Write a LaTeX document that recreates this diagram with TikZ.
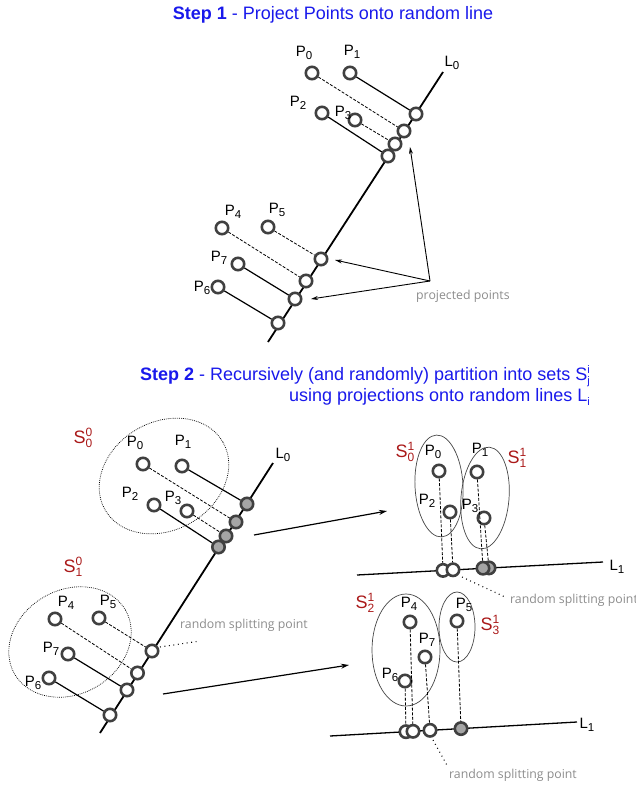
\documentclass[tikz,border=0pt]{standalone}
\usepackage{fontspec}
\setmainfont{Liberation Sans}
\newfontfamily\notefont{Open Sans}
\usetikzlibrary{arrows.meta}
\definecolor{ttblue}{RGB}{25,25,235}
\definecolor{ttred}{RGB}{170,25,25}
\definecolor{ringc}{RGB}{64,64,64}
\definecolor{projfill}{RGB}{165,165,165}
\definecolor{notec}{RGB}{140,140,140}
\definecolor{ellc}{RGB}{70,70,70}
\newcommand\Plab[1]{P\raisebox{-2.8pt}{\fontsize{11.5}{11.5}\selectfont #1}}
\newcommand\Slab[2]{S\rlap{\raisebox{6.5pt}{\fontsize{12}{12}\selectfont #1}}\raisebox{-4pt}{\fontsize{12}{12}\selectfont #2}}
\begin{document}
\begin{tikzpicture}[x=1pt,y=-1pt,
  ptc/.style={circle,draw=ringc,line width=2.6pt,fill=white,minimum size=12.4pt,inner sep=0pt},
  gptc/.style={ptc,fill=projfill},
  lab/.style={inner sep=0pt,font=\fontsize{15}{15}\selectfont},
  slab/.style={inner sep=0pt,text=ttred,font=\fontsize{18}{18}\selectfont},
  title/.style={inner sep=0pt,text=ttblue,font=\fontsize{18}{18}\selectfont},
  axisline/.style={line width=1.8pt},
  solidc/.style={line width=1.2pt},
  dashc/.style={line width=0.8pt,dash pattern=on 3pt off 1.6pt},
  note/.style={inner sep=0pt,text=notec,font=\notefont\fontsize{12.3}{12.3}\selectfont},
  noteline/.style={line width=1.1pt,dash pattern=on 0.9pt off 3.6pt},
  setell/.style={line width=0.7pt,dash pattern=on 0.8pt off 1.1pt},
  subell/.style={draw=ellc,line width=0.7pt},
  bigarrow/.style={line width=1.2pt,-{Stealth[length=8pt,width=5pt]}},
  smallarrow/.style={line width=0.9pt,-{Stealth[length=7pt,width=4pt]}}]
\useasboundingbox (0,0) rectangle (636,787);

% ---------------- Titles
\node[title,anchor=base] (t1) at (333,19.5) {\textbf{Step 1} - Project Points onto random line};
\node[title,anchor=base east] (t2a) at (590,380) {\textbf{Step 2} - Recursively (and randomly) partition into sets S\rlap{\raisebox{6.5pt}{\fontsize{11}{11}\selectfont i}}\raisebox{-4pt}{\fontsize{11}{11}\selectfont j}};
\node[title,anchor=base east] (t2b) at (590,401) {using projections onto random lines L\raisebox{-4pt}{\fontsize{11}{11}\selectfont i}};

% ---------------- Step 1
\coordinate (la0) at (268,342);
\coordinate (la1) at (443,72);
\draw[axisline] (la0) -- (la1);
\node[lab] (la) at (452,63) {L\raisebox{-2.8pt}{\fontsize{11.5}{11.5}\selectfont 0}};

\node[ptc] (a0) at (312,73) {};
\node[ptc] (a1) at (350,73) {};
\node[ptc] (a2) at (322,113) {};
\node[ptc] (a3) at (355,120) {};
\node[ptc] (a4) at (222,228) {};
\node[ptc] (a5) at (268,227) {};
\node[ptc] (a7) at (238,264) {};
\node[ptc] (a6) at (218,287) {};

\node[ptc] (ap1) at (416,114) {};
\node[ptc] (ap0) at (404,131) {};
\node[ptc] (ap3) at (395,144) {};
\node[ptc] (ap2) at (388,156) {};
\node[ptc] (ap5) at (321,259) {};
\node[ptc] (ap4) at (306,281) {};
\node[ptc] (ap7) at (295,299) {};
\node[ptc] (ap6) at (278,323) {};

\node[lab] (al0) at (304,53) {\Plab{0}};
\node[lab] (al1) at (352,52) {\Plab{1}};
\node[lab] (al2) at (298,103) {\Plab{2}};
\node[lab] (al3) at (343,113) {\Plab{3}};
\node[lab] (al4) at (233,212) {\Plab{4}};
\node[lab] (al5) at (277,210) {\Plab{5}};
\node[lab] (al7) at (219,258) {\Plab{7}};
\node[lab] (al6) at (202,288) {\Plab{6}};

\draw[solidc] (a1) -- (ap1);
\draw[dashc] (a0) -- (ap0);
\draw[dashc] (a3) -- (ap3);
\draw[solidc] (a2) -- (ap2);
\draw[dashc] (a5) -- (ap5);
\draw[dashc] (a4) -- (ap4);
\draw[solidc] (a7) -- (ap7);
\draw[solidc] (a6) -- (ap6);

\coordinate (pj) at (430,281);
\coordinate (pjt1) at (410,147);
\coordinate (pjt2) at (335,260);
\coordinate (pjt3) at (311,299);
\draw[smallarrow] (pj) -- (pjt1);
\draw[smallarrow] (pj) -- (pjt2);
\draw[smallarrow] (pj) -- (pjt3);
\node[note,anchor=west] (pjl) at (416,296) {projected points};

% ---------------- Step 2, left
\draw[setell,rotate around={30:(164,476)}] (164,476) ellipse [x radius=68,y radius=54];
\draw[setell,rotate around={30:(70,642)}] (70,642) ellipse [x radius=64,y radius=52];

\coordinate (lb0) at (100,733);
\coordinate (lb1) at (273,463);
\draw[axisline] (lb0) -- (lb1);
\node[lab] (lb) at (283,455) {L\raisebox{-2.8pt}{\fontsize{11.5}{11.5}\selectfont 0}};

\node[ptc] (b0) at (143,464) {};
\node[ptc] (b1) at (182,466) {};
\node[ptc] (b2) at (154,505) {};
\node[ptc] (b3) at (187,511) {};
\node[ptc] (b4) at (55,619) {};
\node[ptc] (b5) at (99,618) {};
\node[ptc] (b7) at (68,654) {};
\node[ptc] (b6) at (49,678) {};

\node[gptc] (bp1) at (247,504) {};
\node[gptc] (bp0) at (236,522) {};
\node[gptc] (bp3) at (226,536) {};
\node[gptc] (bp2) at (218.5,547) {};
\node[ptc] (bp5) at (152,651) {};
\node[ptc] (bp4) at (137.5,673) {};
\node[ptc] (bp7) at (127,690) {};
\node[ptc] (bp6) at (110,715) {};

\node[lab] (bl0) at (135,443) {\Plab{0}};
\node[lab] (bl1) at (183,442) {\Plab{1}};
\node[lab] (bl2) at (130,494) {\Plab{2}};
\node[lab] (bl3) at (173,498) {\Plab{3}};
\node[lab] (bl4) at (66,603) {\Plab{4}};
\node[lab] (bl5) at (108,602) {\Plab{5}};
\node[lab] (bl7) at (51,649) {\Plab{7}};
\node[lab] (bl6) at (33,683) {\Plab{6}};
\node[slab] (s00) at (83,438) {\Slab{0}{0}};
\node[slab] (s10) at (73,567) {\Slab{0}{1}};

\draw[solidc] (b1) -- (bp1);
\draw[dashc] (b0) -- (bp0);
\draw[dashc] (b3) -- (bp3);
\draw[solidc] (b2) -- (bp2);
\draw[dashc] (b5) -- (bp5);
\draw[dashc] (b4) -- (bp4);
\draw[solidc] (b7) -- (bp7);
\draw[solidc] (b6) -- (bp6);

\coordinate (rs1a) at (160,647);
\coordinate (rs1b) at (200,641);
\draw[noteline] (rs1a) -- (rs1b);
\node[note] (rs1) at (244,625) {random splitting point};

\coordinate (ar1a) at (254,535);
\coordinate (ar1b) at (387,511);
\draw[bigarrow] (ar1a) -- (ar1b);
\coordinate (ar2a) at (163,694);
\coordinate (ar2b) at (349,665);
\draw[bigarrow] (ar2a) -- (ar2b);

% ---------------- Step 2, right top
\draw[subell,rotate around={3:(439,486)}] (439,486) ellipse [x radius=24,y radius=51];
\draw[subell,rotate around={-5:(485,498)}] (485,498) ellipse [x radius=24,y radius=51];

\coordinate (lc0) at (357,575);
\coordinate (lc1) at (603,562);
\draw[line width=1.3pt] (lc0) -- (lc1);
\node[lab] (lc) at (617,567) {L\raisebox{-2.8pt}{\fontsize{11.5}{11.5}\selectfont 1}};

\node[ptc] (c0) at (439,471) {};
\node[ptc] (c2) at (450,512) {};
\node[ptc] (c1) at (477,472) {};
\node[ptc] (c3) at (484,518) {};

\node[ptc] (cp0) at (443,570.4) {};
\node[ptc] (cp2) at (453,569.8) {};
\node[gptc] (cp3) at (489,567.9) {};
\node[gptc] (cp1) at (483,568.2) {};

\node[slab] (s01) at (405,452) {\Slab{1}{0}};
\node[slab] (s11) at (517,458) {\Slab{1}{1}};
\node[lab] (cl0) at (433,452) {\Plab{0}};
\node[lab] (cl1) at (480,450) {\Plab{1}};
\node[lab] (cl2) at (427,501) {\Plab{2}};
\node[lab] (cl3) at (470,506) {\Plab{3}};

\draw[dashc] (c0) -- (cp0);
\draw[dashc] (c2) -- (cp2);
\draw[dashc] (c1) -- (cp1);
\draw[dashc] (c3) -- (cp3);

\coordinate (rs2a) at (462,577);
\coordinate (rs2b) at (505,597);
\draw[noteline] (rs2a) -- (rs2b);
\node[note,anchor=west] (rs2) at (510,600) {random splitting point};

% ---------------- Step 2, right bottom
\draw[subell] (406,650) ellipse [x radius=34,y radius=56];
\draw[subell] (457,627) ellipse [x radius=18,y radius=35];

\coordinate (ld0) at (330,736);
\coordinate (ld1) at (577,722);
\draw[line width=1.3pt] (ld0) -- (ld1);
\node[lab] (ld) at (587,725) {L\raisebox{-2.8pt}{\fontsize{11.5}{11.5}\selectfont 1}};

\node[ptc] (d4) at (410,622) {};
\node[ptc] (d5) at (457,621) {};
\node[ptc] (d7) at (425,657) {};
\node[ptc] (d6) at (405,681) {};

\node[ptc] (dp6) at (406,731.7) {};
\node[ptc] (dp4) at (413,731.3) {};
\node[ptc] (dp7) at (430,730.3) {};
\node[gptc] (dp5) at (461,728.6) {};

\node[slab] (s21) at (365,603) {\Slab{1}{2}};
\node[slab] (s31) at (490,625) {\Slab{1}{3}};
\node[lab] (dl4) at (409,604) {\Plab{4}};
\node[lab] (dl5) at (464,605) {\Plab{5}};
\node[lab] (dl7) at (427,640) {\Plab{7}};
\node[lab] (dl6) at (390,675) {\Plab{6}};

\draw[dashc] (d6) -- (dp6);
\draw[dashc] (d4) -- (dp4);
\draw[dashc] (d7) -- (dp7);
\draw[dashc] (d5) -- (dp5);

\coordinate (rs3a) at (433,740);
\coordinate (rs3b) at (448,767);
\draw[noteline] (rs3a) -- (rs3b);
\node[note] (rs3) at (513,775) {random splitting point};
\end{tikzpicture}
\end{document}
